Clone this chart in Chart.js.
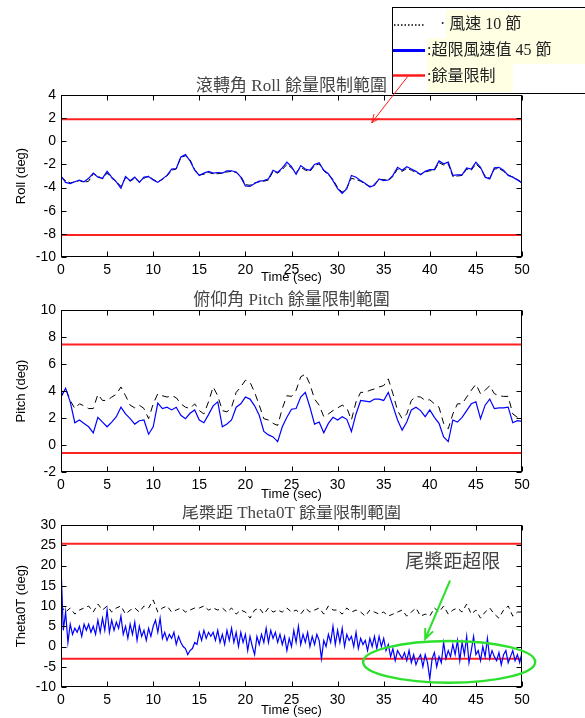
<!DOCTYPE html>
<html lang="zh-Hant">
<head>
<meta charset="UTF-8">
<title>餘量限制範圍</title>
<script src="https://cdn.jsdelivr.net/npm/chart.js"></script>
<style>
  body { margin: 0; background: #fff; }
  .fig { position: relative; width: 585px; height: 718px; overflow: hidden; }
  .fig canvas { position: absolute; left: 0; }
</style>
</head>
<body>
<div class="fig">
  <canvas id="rollChart" width="585" height="290" style="top:0"></canvas>
  <canvas id="pitchChart" width="585" height="215" style="top:290px"></canvas>
  <canvas id="thetaChart" width="585" height="213" style="top:505px"></canvas>
</div>
<script>
// data, 0.5 s steps unless noted
const rollWind45 = [-3.0,-3.55,-3.65,-3.5,-3.35,-3.5,-3.2,-2.75,-3.1,-3.2,
  -2.6,-3.1,-3.5,-4.05,-3.05,-3.4,-3.1,-3.55,-3.1,-3.05,
  -3.35,-3.55,-3.25,-2.95,-2.4,-2.35,-1.35,-1.15,-1.7,-2.5,
  -2.95,-2.75,-2.6,-2.75,-2.7,-2.75,-2.55,-2.55,-2.65,-3.1,
  -3.85,-3.9,-3.65,-3.45,-3.4,-3.25,-2.5,-2.7,-2.3,-1.8,
  -2.2,-2.85,-2.1,-2.4,-2.5,-2.0,-1.85,-2.5,-2.8,-3.4,
  -4.1,-4.5,-4.1,-2.95,-3.1,-3.4,-3.65,-3.95,-3.8,-3.25,
  -3.4,-3.35,-2.95,-2.25,-2.5,-2.2,-2.4,-2.6,-2.9,-2.6,
  -2.45,-2.45,-1.7,-1.95,-1.8,-2.95,-2.9,-2.9,-2.3,-2.4,
  -1.8,-2.25,-3.1,-3.25,-2.3,-2.25,-2.5,-2.95,-3.1,-3.35,
  -3.6];
const rollWind10 = [-3.1,-3.4,-3.6,-3.5,-3.4,-3.55,-3.45,-2.8,-3.0,-3.25,
  -2.75,-3.2,-3.45,-3.9,-3.15,-3.45,-3.2,-3.5,-3.2,-3.0,
  -3.3,-3.5,-3.3,-3.0,-2.5,-2.4,-1.4,-1.25,-1.6,-2.45,
  -2.9,-2.85,-2.7,-2.8,-2.8,-2.75,-2.65,-2.6,-2.7,-3.0,
  -3.75,-3.8,-3.6,-3.5,-3.45,-3.35,-2.6,-2.75,-2.45,-2.0,
  -2.3,-2.7,-2.25,-2.5,-2.6,-2.1,-1.95,-2.55,-2.9,-3.3,
  -4.0,-4.4,-4.0,-3.2,-3.3,-3.45,-3.7,-3.9,-3.7,-3.3,
  -3.3,-3.4,-3.05,-2.4,-2.6,-2.35,-2.5,-2.7,-2.85,-2.65,
  -2.55,-2.5,-1.85,-2.05,-1.95,-3.05,-3.0,-2.95,-2.4,-2.5,
  -1.95,-2.35,-3.0,-3.2,-2.4,-2.35,-2.6,-2.9,-3.1,-3.3,
  -3.55];
const rollLimits = [1.9, -8.1];

const pitchWind45 = [3.55,4.2,3.2,1.65,1.85,1.6,1.35,0.9,2.05,1.7,
  1.35,1.7,2.1,2.8,2.3,1.95,1.55,1.8,1.85,0.8,
  1.35,3.1,2.7,2.8,2.6,2.8,2.2,1.95,2.35,2.6,
  1.85,1.65,2.25,2.9,3.2,1.35,1.55,1.85,2.8,3.05,
  3.55,3.4,2.9,2.2,1.0,0.75,0.6,0.25,1.35,2.05,
  2.65,2.7,3.55,3.9,2.8,1.55,1.7,0.9,1.6,2.05,
  1.85,2.1,1.9,1.0,2.3,3.3,3.25,3.2,3.4,3.4,
  3.3,3.9,2.9,1.85,1.1,1.7,2.6,2.8,2.55,2.1,
  2.6,2.05,1.6,0.6,0.25,1.85,1.7,2.05,2.55,3.05,
  3.2,1.95,2.95,3.4,2.7,2.75,2.75,2.8,1.65,1.8,
  1.75];
const pitchWind10 = [3.55,4.2,3.3,2.7,3.05,2.9,2.7,2.7,3.75,3.3,
  3.3,3.55,3.75,4.3,3.65,2.95,2.75,2.95,2.7,1.95,
  3.05,3.8,3.65,3.55,3.65,3.5,3.05,2.8,2.7,3.05,
  2.55,2.3,3.2,4.3,3.65,2.55,2.45,2.8,3.9,4.3,
  4.8,4.65,3.9,2.95,1.95,1.85,1.6,1.45,2.7,3.65,
  3.6,4.05,5.05,5.25,4.5,3.4,2.95,2.1,2.3,2.55,
  2.75,2.95,2.75,1.85,3.2,3.9,3.9,4.05,4.15,4.3,
  4.4,4.9,3.8,2.55,1.95,2.3,3.3,3.6,3.55,3.3,
  3.35,3.05,2.8,1.6,1.2,2.3,3.05,3.05,3.55,4.05,
  4.5,3.8,4.05,4.4,3.8,3.65,3.6,3.6,2.3,2.05,
  2.2];
const pitchLimits = [7.45, -0.6];

// theta 45 kt is sampled every 0.25 s
const thetaWind45 = [20,
  4,8.5,1,5.5, 3,4.5,3.5,5, 2.5,5.5,4,5.5, 3.5,5,3,6.5, 3.5,7,4,9,
  3.5,6.5,4,6, 4.5,7.5,3,5, 2,5.5,3,6, 1.5,5,2.5,4, 1.5,4.5,2.5,5,
  6.5,3.5,7,2, 3.5,1.5,3,2, 3.5,0.5,2.5,1, 0,-0.5,-2,-1, -0.5,1,0.5,3.5,
  1.5,4,2,3.5, 2.5,3.5,1.5,4, 1,3,0.5,4, 1.5,4.5,1,3.5, 0,3.5,1,3,
  -1,2.5,0,-2, 2.5,0.5,3,1, 4.5,1,4,2, 3.5,1,3,0.5, 2.5,-1,2,0,
  4,1,5,0.5, 3,1,3.5,0, 2.5,0.5,3,1.5, -3,1.5,0,3, 1,5,0.5,4,
  1,4.5,0,3, 1.5,2.5,0,3.5, -0.5,2,0.5,1.5, -1,2,0,2.5, -0.5,2.5,0,2,
  -1,0.5,-2.5,-0.5, -3.5,-1,-2,-3, -1.5,-3.5,-1,-4, -2,-4.5,-3,-2, -5,-2,-4,-8,
  -3,-1.5,-5,-2.5, -4,1,-3,-1, -2.5,0.5,-2,1.5, -3.5,1,-2,2.5, -4,-1,2.5,-2,
  -1,-3.5,0,-2.5, 2,-3,-1,-2.5, -3.5,-1.5,-4.5,-2, -1,-4,-2.5,-1, -3.5,-2,-4,-1.5];
const thetaWind10 = [10,8.5,9.5,8,9,9.5,10,8.5,10.5,9,
  10,8.5,9.5,10,8,9,9.5,8.5,10,9.5,
  11.5,8.5,9.5,10,8.5,9,9.5,8.5,9,9.5,
  9.5,10,9,9.5,9,9.5,8.5,9.5,8,9,
  8.5,7,9,9.5,8,9.5,8.5,9,8.5,9.5,
  8.5,9,8,9.5,8.5,9,9.5,8,10,9,
  9,8,9.5,8.5,9,8.5,7.5,9,8.5,8,
  8.5,7.5,8,8.5,9,7.5,8.5,9.5,7.5,8,
  7.5,9.5,8.5,10,8,9,9.5,8.5,10.5,8,
  9,7,8.5,9.5,8,7,9,10,7.5,8.5,
  8.5];
const thetaLimits = [25.4, -3];

const legendLabels = ['· 風速 10 節', ':超限風速值 45 節', ':餘量限制'];

const SANS = '"Liberation Sans", Arial, sans-serif';
const SERIF = '"Liberation Serif", "Noto Sans CJK TC", serif';

function series(vals, step) {
  return vals.map((v, i) => ({ x: i * step, y: v }));
}
function limitLine(v) {
  return [{ x: 0, y: v }, { x: 50, y: v }];
}

function arrow(ctx, x1, y1, x2, y2, color, w, head) {
  const a = Math.atan2(y2 - y1, x2 - x1);
  ctx.save();
  ctx.strokeStyle = color; ctx.lineWidth = w;
  ctx.beginPath();
  ctx.moveTo(x1, y1); ctx.lineTo(x2, y2);
  ctx.moveTo(x2 - head * Math.cos(a - 0.4), y2 - head * Math.sin(a - 0.4));
  ctx.lineTo(x2, y2);
  ctx.lineTo(x2 - head * Math.cos(a + 0.4), y2 - head * Math.sin(a + 0.4));
  ctx.stroke();
  ctx.restore();
}

// matlab style box with inward ticks
const frame = {
  id: 'frame',
  afterDatasetsDraw(chart) {
    const { ctx, chartArea: a, scales } = chart;
    const L = Math.round(a.left) + 0.5, R = Math.round(a.right) - 0.5;
    const T = Math.round(a.top) + 0.5, B = Math.round(a.bottom) - 0.5;
    ctx.save();
    ctx.strokeStyle = '#000'; ctx.lineWidth = 1;
    ctx.strokeRect(L, T, R - L, B - T);
    ctx.beginPath();
    scales.x.ticks.forEach(t => {
      const px = Math.round(scales.x.getPixelForValue(t.value)) + 0.5;
      ctx.moveTo(px, B); ctx.lineTo(px, B - 5);
      ctx.moveTo(px, T); ctx.lineTo(px, T + 5);
    });
    scales.y.ticks.forEach(t => {
      const py = Math.round(scales.y.getPixelForValue(t.value)) + 0.5;
      ctx.moveTo(L, py); ctx.lineTo(L + 5, py);
      ctx.moveTo(R, py); ctx.lineTo(R - 5, py);
    });
    ctx.stroke();
    ctx.restore();
  }
};

const rollNotes = {
  id: 'rollNotes',
  afterDraw(chart) {
    const ctx = chart.ctx;
    const { x, y } = chart.scales;
    ctx.save();
    // legend box
    ctx.fillStyle = '#fff';
    ctx.fillRect(392, 7, 200, 86);
    ctx.fillStyle = '#ffffe4';
    ctx.fillRect(446, 10, 139, 28);
    ctx.fillRect(427, 38, 158, 26);
    ctx.fillRect(427, 64, 86, 28);
    ctx.strokeStyle = '#000'; ctx.lineWidth = 1;
    ctx.strokeRect(392.5, 7.5, 200, 86);
    ctx.lineWidth = 1.5; ctx.setLineDash([1.5, 2]);
    ctx.beginPath(); ctx.moveTo(394, 25); ctx.lineTo(425, 25); ctx.stroke();
    ctx.setLineDash([]);
    ctx.strokeStyle = '#0000ff'; ctx.lineWidth = 3;
    ctx.beginPath(); ctx.moveTo(393, 50.5); ctx.lineTo(425, 50.5); ctx.stroke();
    ctx.strokeStyle = '#ff1a1a'; ctx.lineWidth = 2.5;
    ctx.beginPath(); ctx.moveTo(393, 75.5); ctx.lineTo(425, 75.5); ctx.stroke();
    ctx.fillStyle = '#222';
    ctx.font = '16px ' + SERIF;
    ctx.textBaseline = 'middle';
    ctx.fillText(legendLabels[0], 440, 25);
    ctx.fillText(legendLabels[1], 427, 51);
    ctx.fillText(legendLabels[2], 427, 77);
    ctx.restore();
    arrow(ctx, x.getPixelForValue(37.6), y.getPixelForValue(5.6),
      x.getPixelForValue(33.7), y.getPixelForValue(1.6), '#ff1a1a', 1, 9);
  }
};

const thetaNotes = {
  id: 'thetaNotes',
  afterDraw(chart) {
    const ctx = chart.ctx;
    const { x, y } = chart.scales;
    const cx = x.getPixelForValue(42.1), cy = y.getPixelForValue(-3.8);
    const rx = x.getPixelForValue(9.33) - x.getPixelForValue(0);
    const ry = y.getPixelForValue(0) - y.getPixelForValue(5.15);
    ctx.save();
    ctx.strokeStyle = '#2ee02e'; ctx.lineWidth = 2.5;
    ctx.beginPath(); ctx.ellipse(cx, cy, rx, ry, 0, 0, Math.PI * 2); ctx.stroke();
    ctx.fillStyle = '#444';
    ctx.font = '19px ' + SERIF;
    ctx.textAlign = 'center'; ctx.textBaseline = 'middle';
    ctx.fillText('尾槳距超限', x.getPixelForValue(42.5), y.getPixelForValue(20.5));
    ctx.restore();
    arrow(ctx, x.getPixelForValue(42.2), y.getPixelForValue(16.3),
      x.getPixelForValue(39.5), y.getPixelForValue(1.85), '#2ee02e', 2, 11);
  }
};

function makeChart(id, c) {
  return new Chart(document.getElementById(id), {
    type: 'line',
    data: {
      datasets: [
        { data: series(c.blue, c.blueStep), borderColor: '#0000ff', borderWidth: 1.2 },
        { data: series(c.black, 0.5), borderColor: '#000', borderWidth: 1, borderDash: c.dash },
        { data: limitLine(c.limits[0]), borderColor: '#ff2020', borderWidth: 2 },
        { data: limitLine(c.limits[1]), borderColor: '#ff2020', borderWidth: 2 }
      ]
    },
    options: {
      responsive: false,
      animation: false,
      elements: { point: { radius: 0 }, line: { tension: 0 } },
      layout: { padding: { top: c.padTop, right: 63, left: 0, bottom: 0 } },
      plugins: {
        legend: { display: false },
        tooltip: { enabled: false },
        title: {
          display: true, fullSize: false, text: c.title, color: '#444',
          font: { family: SERIF, size: 17, weight: 'normal', lineHeight: 1 },
          padding: { top: 0, bottom: c.titleGap }
        }
      },
      scales: {
        x: {
          type: 'linear', min: 0, max: 50,
          ticks: { stepSize: 5, color: '#000', font: { family: SANS, size: 14 }, padding: 5, maxRotation: 0 },
          grid: { display: false, drawTicks: false },
          border: { display: false },
          title: { display: true, text: 'Time (sec)', color: '#000', font: { family: SANS, size: 13 },
            padding: { top: 0, bottom: c.xTitlePad } },
          afterFit: s => { s.height = c.xHeight; }
        },
        y: {
          min: c.yMin, max: c.yMax,
          ticks: { stepSize: c.yStep, color: '#000', font: { family: SANS, size: 14 }, padding: 5 },
          grid: { display: false, drawTicks: false },
          border: { display: false },
          title: { display: true, text: c.yLabel, color: '#000', font: { family: SANS, size: 13 },
            padding: { top: 14, bottom: 0 } },
          afterFit: s => { s.width = 61; }
        }
      }
    },
    plugins: [frame].concat(c.extra || [])
  });
}

makeChart('rollChart', {
  blue: rollWind45, blueStep: 0.5, black: rollWind10, dash: [6, 3], limits: rollLimits,
  title: '滾轉角 Roll 餘量限制範圍', yLabel: 'Roll (deg)', yMin: -10, yMax: 4, yStep: 2,
  padTop: 78, titleGap: 0, xHeight: 33, xTitlePad: 4.5, extra: [rollNotes]
});
makeChart('pitchChart', {
  blue: pitchWind45, blueStep: 0.5, black: pitchWind10, dash: [7, 5], limits: pitchLimits,
  title: '俯仰角 Pitch 餘量限制範圍', yLabel: 'Pitch (deg)', yMin: -2, yMax: 10, yStep: 2,
  padTop: 2, titleGap: 1, xHeight: 33, xTitlePad: 3
});
makeChart('thetaChart', {
  blue: thetaWind45, blueStep: 0.25, black: thetaWind10, dash: [5, 4], limits: thetaLimits,
  title: '尾槳距 Theta0T 餘量限制範圍', yLabel: 'Theta0T (deg)', yMin: -10, yMax: 30, yStep: 5,
  padTop: 0, titleGap: 3, xHeight: 31, xTitlePad: 0, extra: [thetaNotes]
});
</script>
</body>
</html>
